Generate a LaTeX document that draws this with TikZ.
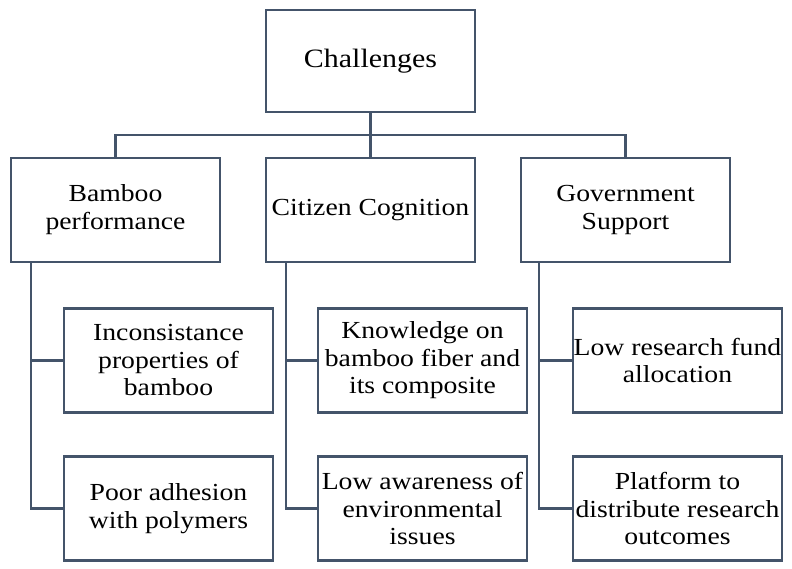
\documentclass[tikz,border=0pt]{standalone}
\usepackage{fontspec}
\setmainfont{Liberation Serif}[FakeStretch=1.13]
\usetikzlibrary{positioning}
\definecolor{linecol}{HTML}{44546A}
\tikzset{x=1pt, y=1pt,
every node/.style={draw=linecol, line width=2.4pt, align=center, inner sep=0pt, text=black},
topbox/.style={minimum width=209pt, minimum height=102pt, font=\fontsize{26.5}{30}\selectfont},
catbox/.style={minimum width=209pt, minimum height=104pt, font=\fontsize{24.5}{28}\selectfont},
itembox/.style={minimum width=209pt, minimum height=104pt, font=\fontsize{24.5}{27.5}\selectfont},
link/.style={draw=linecol, line width=2.4pt}, % connectors between boxes
}

\begin{document}
\begin{tikzpicture}
  \useasboundingbox (0,0) rectangle (792,-569);
  \node[topbox] (chal) at (370.5,-61) {Challenges};
  \node[catbox] (cit) at (370.5,-210) {Citizen Cognition};
  \node[catbox, left of=cit, node distance=255pt] (bam) {Bamboo\\performance};
  \node[catbox, right of=cit, node distance=255pt] (gov) {Government\\Support};

  \node[itembox] (inc) at (168.5,-360.5) {Inconsistance\\properties of\\bamboo};
  \node[itembox, below of=inc, node distance=148pt] (poor) {Poor adhesion\\with polymers};
  \node[itembox, right of=inc, node distance=254pt] (know) {Knowledge on\\bamboo fiber and\\its composite};
  \node[itembox, below of=know, node distance=148pt] (aware) {Low awareness of\\environmental\\issues};
  \node[itembox, right of=know, node distance=255pt] (fund) {Low research fund\\allocation};
  \node[itembox, below of=fund, node distance=148pt] (plat) {Platform to\\distribute research\\outcomes};

  % top level
  \draw[link] (chal.south) -- (cit.north);
  \draw[link] (bam.north) -- ++(0,22) -| (gov.north);
  % branches
  \draw[link] ([xshift=21pt]bam.south west) |- (inc.west);
  \draw[link] ([xshift=21pt]bam.south west) |- (poor.west);
  \draw[link] ([xshift=21pt]cit.south west) |- (know.west);
  \draw[link] ([xshift=21pt]cit.south west) |- (aware.west);
  \draw[link] ([xshift=19pt]gov.south west) |- (fund.west);
  \draw[link] ([xshift=19pt]gov.south west) |- (plat.west);

\end{tikzpicture}
\end{document}
